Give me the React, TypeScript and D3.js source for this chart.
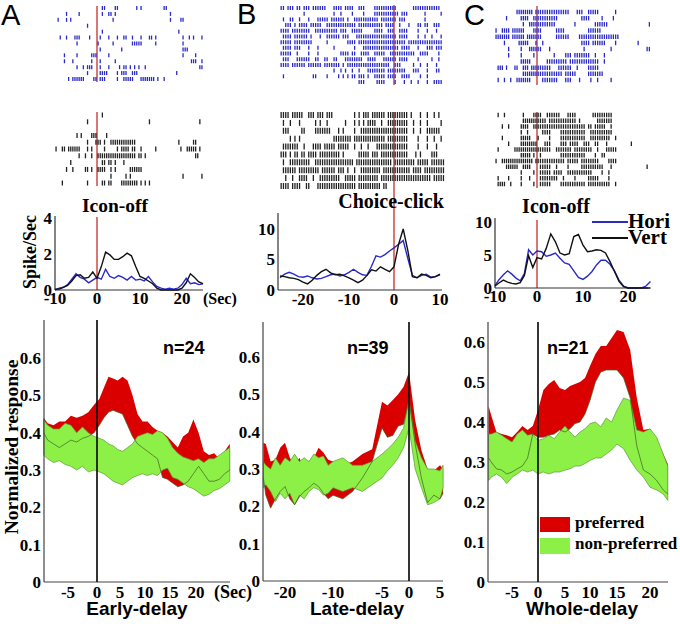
import React from 'react';
import * as d3 from 'd3';

const SERIF = '"Liberation Serif", "Times New Roman", serif';
const SANS = '"Liberation Sans", Arial, sans-serif';
const RED = '#da0000';
const GREEN = '#8cf046';
const BLUE = '#2a2ac8';
const MARK = '#cc4a4a';

// ---- raster data: one string per trial, 0.5 s bins, '|' = spike (spaces only group the bins) ----
const rasterBlueA = [
  '.......... .......... ..||....|| ........|. |......... .||',
  '.....|.... .|........ ..|..||.|. .......... .......... ....|',
  '.|...|.|.. .......... .......|.. .......... .......... ....|....| |',
  '.......... .....|',
  '.......... .......... ..|....... .......... .......... ........|',
  '..|..|...| ||....|... .|...|...| ..||..|... |...||.|.. .......... |..|.|...|',
  '.......... |......... |......|.. ......|||| |......|.. .......... |',
  '.......... .......... .|........ .|........ .......... .......... |||',
  '....|..... |......||| .....|.... .......... .......... .......... |.....|',
  '....|...|. .......|.. .|......|. .......... .......... .......... ....|||..|',
  '.......... |..|.|||.. .|...|.... |.||.|.|.| ..|....... .......... ........||',
  '.......... .....|.... .||||....| .|||..|||. .......... .......|',
  '......|.|| ||||....|| .|||.....| ..|||||... |||||||.|. .|',
];
const rasterBlackA = [
  '.......... .......... ..|',
  '.......... .....|.... .......... .......... ....|..... .......... ........|',
  '',
  '.......... |.|....||| ....|',
  '.......... .....|...| ||.|..|||| ||||||||.. .......... ........|. .....||',
  '|..||.|||| ||...|.|.. ...|.....| .||||.||.. |......|.. .........| ..|||||.|.',
  '.......... .|..|..|.. |||||||||| ||||||||.| |.|....... .......... ......||',
  '.......|.. .......... ..||.||.|. ..|',
  '.....|..|. ....||.|.. ||||..|.|. .....||||| |',
  '.......... .......... ......|... ...|.|.... .......... .......... |........|',
  '...|...... .....|.... ..||.||... .||||||||. |.|.|',
];
const rasterBlueB = [
  '||.|||.||. |||.|||||| ...||||.|| ||..|||... .||||||||| |.......|| ||||||||||',
  '.......... |......... ...|..|... .|....|... .||||||||| ||.|||.... ...|...... |',
  '.|..||..|. ..|...|||| |.||||||.| ..|||||||| |||.|||||| |.|||..... ...|',
  '..|||.|.|| ||.|||||.. |||||||||| |||.|||||| |||||.|||| ..|...|... ||.||..|||',
  '||||.||||| |||..||||| |||||.|||. .|||||.... .||||..||| ..||||.... |...|...|.',
  '.||||.|||| ||.|...|.. ||||||.||| ...||||||| |||||||||| |.||||.... |..|..|... |',
  '|||||.|||| ||||...... |........| |||.|||||| |||||||||| |||||.|||| |||||||||| |',
  '.||||.|||. ..|...|... ...|...... ..|...|||| |||||||||| ||.||||... |...|||.|| |',
  '|||||..|.. ..|...|... ......|||| .||..||||. .|||||..|| |||||||||. .||||....|',
  '.|||...||| |||..||..| |..||...|| ||||||..|| ||...||||| |.||||.... |.....|..|',
  '||||.||||| |.||||||.| ||||||.|.| |||||||||| ||||||||.. |||.....|. .|..|...|.',
  '.......... .......... ...|..|.|. .|..|...|| ||||||.||| |||||...|| |...|...||',
  '.|........ ....||.... |....|.|.| .||.|||.|. .|||||.||| |..||||... .|..|',
  '.......... .......... .......... ....|||... ..||||.... |...|..|.. |...|..||| |',
];
const rasterBlackB = [
  '||||.||||| ..|||.|||. |||....... ..|.|.|||. ||||||.||| ||||||.|.. .|..|..|.|',
  '.|..|...|. .....|.|.. |.......|. ..|.|.|.|| ||..|..||| ||||||..|. .|..|..... |',
  '.|||.....| |....||||| ||...|.|.. ..|..||||| |||||||||| ||||||..|. .|..||||||',
  '....|.|.|. .......... ...||||||| |.|||||||| ||||||.||| ||||||.... |...|..|.. |',
  '.|||||||.. |...||||.| ||||.||||| ..|..|..|. ..|||||||| ||||||.... |...|...|.',
  '|||.|.||.| |.||||.||| ||||||.|.. ....|||||. |||.|||||| ||||||...| .|....|||.',
  '.|..|||||| |||..||||| |||||||||| ||.||||||| |||||||||. |||||||||. |||||.|||| ||',
  '.||||||.|| |||||||.|| ||||.|||.| ..|..||||| ||||.||||| |||||||.|| ||.||||||| ||',
  '..|..|..|| ||..|..||| ||||||..|| |||.|||||| |||.|||||| |||||||||| ||||||.||| ||',
  '||||.||||. .||...|||| |||||||||| |||.|||||| ||||.||...',
];
const rasterBlueC = [
  '.......... ||||||||.| |||||||||| ||||...||| ..|||||... ....|',
  '.....|.... ..||||..|| |||||||||. .........| |||.....|. ...|',
  '.......... ...|..|||| ||||||||.. ......|... .....||||| |......... .........|',
  '|..||||.|| ||||....|| ||......|| ||........ ..||||||..',
  '|||||||.|| ||||.||||| ||......|| ||||....|| |||||||||| ||||||',
  '....|..... .|||||...| ..|....... .........| |||.|||||| ....|..... ....|',
  '......|... ..|...|||| ||...|.... .......... |......... ..|....... ........||',
  '......|... ..|.....|. .......|.. ..|||.|||| |||..|...|',
  '.......... ..|||||... ....|||||| |||.|||||| |||||||..|',
  '.|||.|...| |..|||.||| ||||||...| |||||..|.. ..|||||',
  '.......... ...||||||| |||||||||| |.|||||... ..|||||||',
  '.|..|..|.. |||||||... ..|||||||. ..|||...|. ...|..|... ..|',
];
const rasterBlackC = [
  '.|..|..... ...|....|| ||..|||||| ...||||... ....|||||| |||',
  '.......... ...||||||| ||||.||||| |||||||.|. ......|||| |||',
  '...|..|... ..||||..|| |||||||||| |||||||||| |.||.||||| ..|',
  '.......... ..|..|.... ..||||.... |||||||||| |..||||||| |||',
  '...|...... ..|||||... |....|.... |||||||||| |..||||||| ||..|',
  '......|... ..|||||||| ...|||.... |||.||||.. |||..||... |......... .|',
  '.|.......| |||||||||| ||||||..|| |||||.|||| ||||..|... |||||',
  '.......... ..|||||.|. .|........ |||||||||| |....|..||',
  '|..||||||| ||||||||.| |||||||||| ||.|||||.| |||||||... .||||',
  '.....||||| |..||||... .|||||..|. ...|.....| |||||||||. ..|....... ........|',
  '.......... ..|.....|. .|||||.||| |..||||||| ||||....|. .|',
  '.|....|... ..|...|... .||||||||. .|....|... ..|||||... .|',
  '.||||..|.. ..|.....|. .|||||.... |||||||||| |.|||||||| ||..|',
];

// ---- PSTH (spikes / sec) ----
const psthTimesA = [-10, -9, -8, -7, -6, -5, -4, -3, -2, -1, 0, 1, 2, 3, 4, 5, 6, 7, 8, 9, 10, 11, 12, 13, 14, 15, 16, 17, 18, 19, 20, 21, 22, 23, 24, 25];
const horiA = [0.0, 0.1, 0.15, 0.3, 0.6, 0.9, 0.7, 0.6, 0.4, 0.55, 0.7, 0.6, 1.15, 0.75, 0.65, 0.8, 0.7, 0.55, 0.75, 0.55, 0.6, 0.5, 0.75, 0.45, 0.2, 0.1, 0.05, 0.1, 0.05, 0.1, 0.3, 0.65, 0.35, 0.4, 0.3, 0.35];
const vertA = [0.05, 0.05, 0.15, 0.25, 0.5, 0.8, 0.85, 0.65, 0.7, 1.0, 0.65, 1.3, 2.1, 1.95, 1.7, 1.7, 1.85, 2.05, 1.9, 1.3, 0.75, 0.65, 0.5, 0.35, 0.1, 0, 0, 0, 0, 0, 0.1, 0.4, 0.9, 0.7, 0.45, 0.35];
const psthTimesB = [-25, -24, -23, -22, -21, -20, -19, -18, -17, -16, -15, -14, -13, -12, -11, -10, -9, -8, -7, -6, -5, -4, -3, -2, -1, 0, 1, 2, 3, 4, 5, 6, 7, 8, 9, 10];
const horiB = [2.0, 2.6, 2.9, 2.6, 2.2, 2.1, 2.3, 2.0, 1.8, 1.9, 2.2, 2.5, 2.6, 2.3, 2.5, 2.9, 3.4, 2.9, 2.5, 2.4, 3.9, 5.6, 5.4, 5.8, 6.4, 6.9, 7.5, 8.1, 5.2, 2.4, 2.0, 2.4, 2.6, 2.1, 2.2, 2.5];
const vertB = [2.3, 2.2, 2.0, 1.9, 1.7, 1.3, 1.0, 1.6, 2.4, 3.0, 3.4, 2.8, 2.5, 2.6, 2.3, 2.0, 1.6, 1.2, 1.6, 2.4, 3.3, 3.1, 3.8, 3.4, 3.0, 3.8, 7.5, 10.0, 6.5, 2.2, 2.0, 2.6, 2.4, 2.0, 2.2, 2.6];
const psthTimesC = [-10, -9, -8, -7, -6, -5, -4, -3, -2, -1, 0, 1, 2, 3, 4, 5, 6, 7, 8, 9, 10, 11, 12, 13, 14, 15, 16, 17, 18, 19, 20, 21, 22, 23, 24, 25];
const horiC = [0.4, 1.3, 2.0, 2.6, 2.1, 1.5, 1.1, 2.2, 5.8, 5.0, 5.6, 5.5, 4.8, 5.0, 5.3, 4.5, 3.8, 3.6, 2.6, 1.6, 1.3, 1.8, 2.5, 3.5, 4.2, 4.2, 3.6, 2.6, 1.2, 0.3, 0, 0, 0, 0, 0.3, 1.0];
const vertC = [0.3, 0.8, 1.2, 0.9, 0.7, 0.6, 0.8, 1.9, 4.9, 3.1, 4.6, 4.4, 6.0, 8.2, 7.0, 5.3, 5.0, 5.2, 7.8, 8.1, 6.5, 5.5, 5.6, 5.8, 5.7, 5.3, 4.0, 2.5, 1.0, 0.2, 0, 0, 0, 0, 0, 0];

// ---- population normalized response (band = mean +/- SE) ----
const timesA = [-9.2, -8.5, -7.5, -6.5, -5.5, -4.5, -3.5, -2.5, -1.5, -0.5, 0.5, 1.5, 2.5, 3.5, 4.5, 5.5, 6.5, 7.5, 8.5, 9.5, 10.5, 11.5, 12.5, 13.5, 14.5, 15.5, 16.5, 17.5, 18.5, 19.5, 20.5, 21.5, 22.5, 23.5, 24.5, 25.5, 26.5];
const prefHiA = [0.44, 0.425, 0.42, 0.43, 0.43, 0.445, 0.44, 0.445, 0.455, 0.475, 0.49, 0.52, 0.55, 0.545, 0.54, 0.55, 0.54, 0.5, 0.45, 0.43, 0.43, 0.415, 0.405, 0.4, 0.39, 0.375, 0.36, 0.39, 0.4, 0.435, 0.4, 0.35, 0.34, 0.345, 0.33, 0.35, 0.37];
const prefLoA = [0.4, 0.38, 0.37, 0.36, 0.37, 0.38, 0.375, 0.385, 0.39, 0.4, 0.42, 0.44, 0.455, 0.46, 0.455, 0.45, 0.42, 0.39, 0.37, 0.36, 0.35, 0.34, 0.33, 0.28, 0.275, 0.265, 0.255, 0.26, 0.27, 0.29, 0.31, 0.29, 0.27, 0.27, 0.275, 0.29, 0.3];
const nonHiA = [0.435, 0.42, 0.41, 0.41, 0.425, 0.42, 0.4, 0.415, 0.4, 0.39, 0.385, 0.38, 0.37, 0.365, 0.355, 0.35, 0.36, 0.37, 0.39, 0.395, 0.4, 0.395, 0.405, 0.4, 0.385, 0.36, 0.345, 0.335, 0.33, 0.325, 0.33, 0.32, 0.33, 0.33, 0.34, 0.35, 0.36];
const nonLoA = [0.34, 0.33, 0.32, 0.325, 0.315, 0.31, 0.3, 0.31, 0.295, 0.3, 0.295, 0.29, 0.28, 0.27, 0.265, 0.26, 0.27, 0.28, 0.285, 0.29, 0.285, 0.29, 0.285, 0.3, 0.305, 0.28, 0.275, 0.265, 0.255, 0.25, 0.24, 0.23, 0.235, 0.245, 0.25, 0.26, 0.27];

const timesB = [-24.5, -24, -23, -22, -21, -20, -19, -18, -17, -16, -15, -14, -13, -12, -11, -10, -9, -8, -7, -6, -5, -4, -3, -2, -1, 0, 1, 2, 3, 4, 5, 5.5];
const prefHiB = [0.37, 0.367, 0.32, 0.325, 0.357, 0.37, 0.33, 0.31, 0.33, 0.3, 0.32, 0.33, 0.357, 0.344, 0.325, 0.32, 0.31, 0.32, 0.34, 0.353, 0.48, 0.47, 0.485, 0.5, 0.52, 0.56, 0.43, 0.35, 0.3, 0.295, 0.31, 0.3];
const prefLoB = [0.276, 0.23, 0.195, 0.22, 0.24, 0.253, 0.22, 0.204, 0.226, 0.24, 0.25, 0.262, 0.253, 0.235, 0.22, 0.23, 0.22, 0.24, 0.276, 0.32, 0.41, 0.385, 0.39, 0.415, 0.42, 0.485, 0.367, 0.276, 0.21, 0.23, 0.22, 0.235];
const nonHiB = [0.32, 0.31, 0.3, 0.33, 0.31, 0.33, 0.32, 0.34, 0.32, 0.33, 0.32, 0.34, 0.33, 0.335, 0.31, 0.32, 0.33, 0.31, 0.31, 0.32, 0.34, 0.353, 0.367, 0.385, 0.41, 0.485, 0.375, 0.33, 0.3, 0.3, 0.295, 0.31];
const nonLoB = [0.25, 0.258, 0.24, 0.213, 0.235, 0.22, 0.235, 0.204, 0.23, 0.22, 0.24, 0.25, 0.245, 0.23, 0.235, 0.25, 0.24, 0.25, 0.24, 0.258, 0.276, 0.295, 0.31, 0.33, 0.357, 0.41, 0.3, 0.25, 0.204, 0.21, 0.22, 0.25];

const timesC = [-9.5, -9, -8, -7, -6, -5, -4, -3, -2, -1, 0, 1, 2, 3, 4, 5, 6, 7, 8, 9, 10, 11, 12, 13, 14, 15, 16, 17, 18, 19, 20, 21, 22, 22.7];
const prefHiC = [0.44, 0.417, 0.375, 0.37, 0.367, 0.362, 0.375, 0.39, 0.38, 0.39, 0.43, 0.48, 0.495, 0.505, 0.485, 0.48, 0.49, 0.495, 0.5, 0.51, 0.54, 0.57, 0.59, 0.59, 0.61, 0.63, 0.625, 0.58, 0.46, 0.38, 0.383, 0.354, 0.32, 0.295];
const prefLoC = [0.31, 0.3, 0.283, 0.28, 0.27, 0.275, 0.283, 0.29, 0.31, 0.37, 0.362, 0.362, 0.367, 0.37, 0.38, 0.375, 0.383, 0.396, 0.4, 0.42, 0.454, 0.5, 0.525, 0.53, 0.53, 0.53, 0.51, 0.46, 0.34, 0.28, 0.27, 0.254, 0.23, 0.22];
const nonHiC = [0.37, 0.37, 0.375, 0.367, 0.358, 0.35, 0.37, 0.38, 0.367, 0.37, 0.354, 0.358, 0.367, 0.358, 0.375, 0.39, 0.375, 0.362, 0.375, 0.383, 0.396, 0.4, 0.388, 0.41, 0.4, 0.43, 0.46, 0.454, 0.38, 0.375, 0.383, 0.362, 0.32, 0.29];
const nonLoC = [0.254, 0.262, 0.27, 0.262, 0.246, 0.262, 0.27, 0.28, 0.275, 0.28, 0.27, 0.275, 0.27, 0.275, 0.275, 0.28, 0.283, 0.29, 0.29, 0.296, 0.304, 0.31, 0.31, 0.32, 0.33, 0.345, 0.333, 0.304, 0.28, 0.262, 0.237, 0.23, 0.22, 0.204];

const respTicks = [0, 0.1, 0.2, 0.3, 0.4, 0.5, 0.6];

type Scale = d3.ScaleLinear<number, number>;

function spikeTimes(row: string, start: number) {
  const s = row.replace(/ /g, '');
  const out: number[] = [];
  for (let i = 0; i < s.length; i++) if (s[i] === '|') out.push(start + (i + 0.5) * 0.5);
  return out;
}

const Raster = ({ rows, x, top, bottom, color, h, start }: { rows: string[]; x: Scale; top: number; bottom: number; color: string; h: number; start: number }) => {
  const y = d3.scalePoint<number>().domain(d3.range(rows.length)).range([top, bottom]);
  return (
    <g>
      {rows.map((r, j) =>
        spikeTimes(r, start).map((t, k) => (
          <line key={j + '-' + k} x1={x(t)} x2={x(t)} y1={(y(j) as number) - h / 2} y2={(y(j) as number) + h / 2} stroke={color} strokeWidth={1.3} />
        ))
      )}
    </g>
  );
};

const Psth = ({ times, hori, vert, x, y, x0, x1, top, yTicks, xTicks, labelBase }: { times: number[]; hori: number[]; vert: number[]; x: Scale; y: Scale; x0: number; x1: number; top: number; yTicks: number[]; xTicks: number[]; labelBase: number }) => {
  const line = (vals: number[]) => d3.line<number>().x((_, i) => x(times[i])).y((v) => y(v))(vals) || '';
  return (
    <g>
      <line x1={x0} x2={x0} y1={top} y2={y(0)} stroke="#333" strokeWidth={1.2} />
      <line x1={x0} x2={x1} y1={y(0)} y2={y(0)} stroke="#333" strokeWidth={1.2} />
      <path d={line(hori)} fill="none" stroke={BLUE} strokeWidth={1.4} />
      <path d={line(vert)} fill="none" stroke="#111" strokeWidth={1.4} />
      {yTicks.map((t) => (
        <text key={'y' + t} x={x0 - 3} y={y(t)} dy="0.35em" textAnchor="end" fontFamily={SERIF} fontWeight="bold" fontSize={17}>{t}</text>
      ))}
      {xTicks.map((t) => (
        <text key={'x' + t} x={x(t)} y={labelBase} textAnchor="middle" fontFamily={SERIF} fontWeight="bold" fontSize={17}>{t}</text>
      ))}
    </g>
  );
};

const Bands = ({ times, pHi, pLo, nHi, nLo, x, y, x0, x1, top, xTicks, n, nX, title, titleX }: { times: number[]; pHi: number[]; pLo: number[]; nHi: number[]; nLo: number[]; x: Scale; y: Scale; x0: number; x1: number; top: number; xTicks: number[]; n: string; nX: number; title: string; titleX: number }) => {
  const area = (hi: number[], lo: number[]) =>
    d3.area<number>().x((_, i) => x(times[i])).y0((_, i) => y(lo[i])).y1((v) => y(v))(hi) || '';
  const line = (vals: number[]) => d3.line<number>().x((_, i) => x(times[i])).y((v) => y(v))(vals) || '';
  return (
    <g>
      <path d={area(pHi, pLo)} fill={RED} />
      <path d={area(nHi, nLo)} fill={GREEN} stroke="#5c9a34" strokeWidth={0.7} />
      <path d={line(pLo)} fill="none" stroke="#3f5f25" strokeWidth={0.7} />
      <line x1={x0} x2={x0} y1={top} y2={y(0)} stroke="#444" strokeWidth={1.2} />
      <line x1={x0} x2={x1} y1={y(0)} y2={y(0)} stroke="#444" strokeWidth={1.2} />
      <line x1={x(0)} x2={x(0)} y1={top} y2={y(0)} stroke="#111" strokeWidth={1.7} />
      {respTicks.map((t) => (
        <text key={'y' + t} x={x0 - 3} y={y(t)} dy="0.35em" textAnchor="end" fontFamily={SERIF} fontWeight="bold" fontSize={17}>{t === 0 ? '0' : t.toFixed(1)}</text>
      ))}
      {xTicks.map((t) => (
        <text key={'x' + t} x={x(t)} y={598} textAnchor="middle" fontFamily={SERIF} fontWeight="bold" fontSize={17}>{t}</text>
      ))}
      <text x={nX} y={354} fontFamily={SANS} fontWeight="bold" fontSize={18}>{n}</text>
      <text x={titleX} y={615} textAnchor="middle" fontFamily={SANS} fontWeight="bold" fontSize={19}>{title}</text>
    </g>
  );
};

export default function App() {
  // time scales of the single-neuron panels (raster + PSTH share them)
  const xA = d3.scaleLinear().domain([-10, 0, 10, 20]).range([55, 97, 140, 182]);
  const xB = d3.scaleLinear().domain([-20, -10, 0, 10]).range([303, 349, 394, 440]);
  const xC = d3.scaleLinear().domain([-10, 0, 10, 20]).range([495, 537, 583, 628]);
  const yA = d3.scaleLinear().domain([0, 4]).range([290, 218]);
  const yB = d3.scaleLinear().domain([0, 10]).range([290, 229]);
  const yC = d3.scaleLinear().domain([0, 10]).range([288, 222]);

  // population panels (tick labels in the original are unevenly spaced)
  const bxA = d3.scaleLinear().domain([-5, 0, 5, 10, 15, 20]).range([68, 97, 120, 145, 170, 196]);
  const bxB = d3.scaleLinear().domain([-20, -10, -5, 0, 5]).range([285, 333, 382, 409, 440]);
  const bxC = d3.scaleLinear().domain([-5, 0, 5, 10, 15, 20]).range([512, 538, 565, 590, 617, 650]);
  const byA = d3.scaleLinear().domain([0, 0.6]).range([582, 358]);
  const byB = d3.scaleLinear().domain([0, 0.6]).range([581, 357]);
  const byC = d3.scaleLinear().domain([0, 0.6]).range([582, 342]);

  return (
    <svg width={680} height={624} style={{ position: 'absolute', left: 0, top: 0, background: '#fff' }}>
      {/* panel letters */}
      <text x={1} y={25} fontFamily={SANS} fontSize={29}>A</text>
      <text x={237} y={24} fontFamily={SANS} fontSize={29}>B</text>
      <text x={464} y={25} fontFamily={SANS} fontSize={29}>C</text>

      {/* event markers */}
      <line x1={xA(0)} x2={xA(0)} y1={6} y2={82} stroke={MARK} strokeWidth={1.5} />
      <line x1={xA(0)} x2={xA(0)} y1={112} y2={186} stroke={MARK} strokeWidth={1.5} />
      <line x1={xA(0)} x2={xA(0)} y1={217} y2={290} stroke={MARK} strokeWidth={1.5} />
      <line x1={xB(0)} x2={xB(0)} y1={5} y2={85} stroke={MARK} strokeWidth={1.5} />
      <line x1={xB(0)} x2={xB(0)} y1={112} y2={290} stroke={MARK} strokeWidth={1.5} />
      <line x1={xC(0)} x2={xC(0)} y1={6} y2={85} stroke={MARK} strokeWidth={1.5} />
      <line x1={xC(0)} x2={xC(0)} y1={112} y2={188} stroke={MARK} strokeWidth={1.5} />
      <line x1={xC(0)} x2={xC(0)} y1={220} y2={288} stroke={MARK} strokeWidth={1.5} />

      {/* rasters */}
      <Raster rows={rasterBlueA} x={xA} top={8} bottom={79} color={BLUE} h={4} start={-10} />
      <Raster rows={rasterBlackA} x={xA} top={115} bottom={183} color="#222" h={5} start={-10} />
      <Raster rows={rasterBlueB} x={xB} top={8} bottom={82} color={BLUE} h={4} start={-25} />
      <Raster rows={rasterBlackB} x={xB} top={115} bottom={186} color="#222" h={6} start={-25} />
      <Raster rows={rasterBlueC} x={xC} top={12} bottom={80} color={BLUE} h={4.5} start={-10} />
      <Raster rows={rasterBlackC} x={xC} top={115} bottom={184} color="#222" h={4.5} start={-10} />

      {/* PSTHs */}
      <Psth times={psthTimesA} hori={horiA} vert={vertA} x={xA} y={yA} x0={55} x1={203} top={216} yTicks={[0, 2, 4]} xTicks={[-10, 0, 10, 20]} labelBase={304} />
      <Psth times={psthTimesB} hori={horiB} vert={vertB} x={xB} y={yB} x0={278} x1={442} top={213} yTicks={[0, 5, 10]} xTicks={[-20, -10, 0, 10]} labelBase={305} />
      <Psth times={psthTimesC} hori={horiC} vert={vertC} x={xC} y={yC} x0={495} x1={648} top={218} yTicks={[0, 5, 10]} xTicks={[-10, 0, 10, 20]} labelBase={302} />
      <text x={203} y={304} fontFamily={SERIF} fontWeight="bold" fontSize={16}>(Sec)</text>
      <text x={115} y={212} textAnchor="middle" fontFamily={SERIF} fontWeight="bold" fontSize={19.5}>Icon-off</text>
      <text x={391} y={208} textAnchor="middle" fontFamily={SERIF} fontWeight="bold" fontSize={20}>Choice-click</text>
      <text x={556} y={213} textAnchor="middle" fontFamily={SERIF} fontWeight="bold" fontSize={20}>Icon-off</text>
      <text transform="translate(36,252) rotate(-90)" textAnchor="middle" fontFamily={SERIF} fontWeight="bold" fontSize={18}>Spike/Sec</text>
      <line x1={592} x2={628} y1={222} y2={222} stroke={BLUE} strokeWidth={2} />
      <line x1={592} x2={628} y1={238} y2={238} stroke="#111" strokeWidth={2} />
      <text x={628} y={228} fontFamily={SERIF} fontWeight="bold" fontSize={21}>Hori</text>
      <text x={628} y={244} fontFamily={SERIF} fontWeight="bold" fontSize={21}>Vert</text>

      {/* population responses */}
      <Bands times={timesA} pHi={prefHiA} pLo={prefLoA} nHi={nonHiA} nLo={nonLoA} x={bxA} y={byA} x0={44} x1={230} top={320} xTicks={[-5, 0, 5, 10, 15, 20]} n="n=24" nX={163} title="Early-delay" titleX={137} />
      <Bands times={timesB} pHi={prefHiB} pLo={prefLoB} nHi={nonHiB} nLo={nonLoB} x={bxB} y={byB} x0={263} x1={443} top={322} xTicks={[-20, -10, -5, 0, 5]} n="n=39" nX={347} title="Late-delay" titleX={357} />
      <Bands times={timesC} pHi={prefHiC} pLo={prefLoC} nHi={nonHiC} nLo={nonLoC} x={bxC} y={byC} x0={488} x1={668} top={322} xTicks={[-5, 0, 5, 10, 15, 20]} n="n=21" nX={547} title="Whole-delay" titleX={582} />
      <text x={214} y={598} fontFamily={SERIF} fontWeight="bold" fontSize={18}>(Sec)</text>
      <text transform="translate(18,447) rotate(-90)" textAnchor="middle" fontFamily={SERIF} fontWeight="bold" fontSize={19.5}>Normalized response</text>

      {/* legend */}
      <rect x={540} y={517} width={30} height={15} fill={RED} />
      <rect x={540} y={538} width={30} height={16} fill={GREEN} />
      <text x={575} y={528} fontFamily={SERIF} fontWeight="bold" fontSize={17}>preferred</text>
      <text x={575} y={549} fontFamily={SERIF} fontWeight="bold" fontSize={17}>non-preferred</text>
    </svg>
  );
}
